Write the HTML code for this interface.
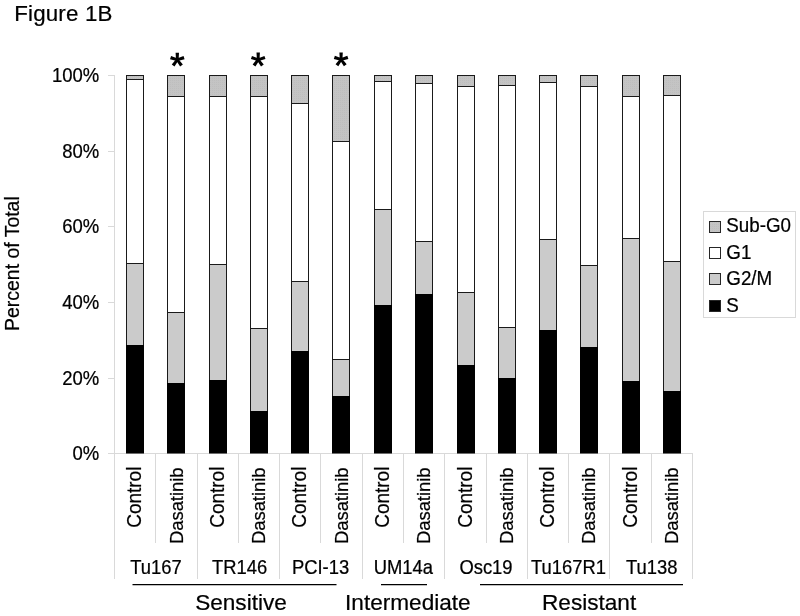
<!DOCTYPE html>
<html><head><meta charset="utf-8"><title>Figure 1B</title>
<style>html,body{margin:0;padding:0;background:#fff;}svg{display:block;will-change:transform;}text{font-family:"Liberation Sans",sans-serif;fill:#000;stroke:#000;stroke-width:0.22px;}</style></head><body>
<svg width="800" height="616" viewBox="0 0 800 616">
<defs><pattern id="dots" width="2" height="2" patternUnits="userSpaceOnUse"><rect width="2" height="2" fill="#c4c4c4"/><rect width="1" height="1" fill="#bebebe"/></pattern></defs>
<rect width="800" height="616" fill="#fff"/>
<text x="14.3" y="20.8" font-size="22.3" letter-spacing="0.17">Figure 1B</text>
<g stroke="#d9d9d9" stroke-width="1" fill="none">
<line x1="114.5" y1="75.0" x2="114.5" y2="579"/>
<line x1="108.0" y1="453.5" x2="692.0" y2="453.5"/>
<line x1="108.0" y1="75.5" x2="114.0" y2="75.5"/>
<line x1="108.0" y1="151.5" x2="114.0" y2="151.5"/>
<line x1="108.0" y1="226.5" x2="114.0" y2="226.5"/>
<line x1="108.0" y1="302.5" x2="114.0" y2="302.5"/>
<line x1="108.0" y1="378.5" x2="114.0" y2="378.5"/>
<line x1="155.5" y1="453.0" x2="155.5" y2="543"/>
<line x1="197.5" y1="453.0" x2="197.5" y2="579"/>
<line x1="238.5" y1="453.0" x2="238.5" y2="543"/>
<line x1="279.5" y1="453.0" x2="279.5" y2="579"/>
<line x1="320.5" y1="453.0" x2="320.5" y2="543"/>
<line x1="362.5" y1="453.0" x2="362.5" y2="579"/>
<line x1="403.5" y1="453.0" x2="403.5" y2="543"/>
<line x1="444.5" y1="453.0" x2="444.5" y2="579"/>
<line x1="486.5" y1="453.0" x2="486.5" y2="543"/>
<line x1="527.5" y1="453.0" x2="527.5" y2="579"/>
<line x1="568.5" y1="453.0" x2="568.5" y2="543"/>
<line x1="609.5" y1="453.0" x2="609.5" y2="579"/>
<line x1="651.5" y1="453.0" x2="651.5" y2="543"/>
<line x1="692.5" y1="453.0" x2="692.5" y2="579"/>
</g>
<text transform="translate(99.3,82.3) scale(1,1.05)" font-size="18.5" text-anchor="end">100%</text>
<text transform="translate(99.3,158.3) scale(1,1.05)" font-size="18.5" text-anchor="end">80%</text>
<text transform="translate(99.3,233.3) scale(1,1.05)" font-size="18.5" text-anchor="end">60%</text>
<text transform="translate(99.3,309.3) scale(1,1.05)" font-size="18.5" text-anchor="end">40%</text>
<text transform="translate(99.3,385.3) scale(1,1.05)" font-size="18.5" text-anchor="end">20%</text>
<text transform="translate(99.3,460.3) scale(1,1.05)" font-size="18.5" text-anchor="end">0%</text>
<text transform="translate(18.9,263.6) rotate(-90)" font-size="19.45" text-anchor="middle">Percent of Total</text>
<rect x="126.5" y="75.5" width="17" height="188.00" fill="#fff" stroke="#1a1a1a" stroke-width="1"/>
<rect x="126.5" y="75.5" width="17" height="4.00" fill="url(#dots)" stroke="#1a1a1a" stroke-width="1"/>
<rect x="126.5" y="263.50" width="17" height="82.00" fill="#cbcbcb" stroke="#1a1a1a" stroke-width="1"/>
<rect x="126" y="345" width="18" height="108.50" fill="#000"/>
<rect x="167.5" y="75.5" width="17" height="237.00" fill="#fff" stroke="#1a1a1a" stroke-width="1"/>
<rect x="167.5" y="75.5" width="17" height="21.00" fill="url(#dots)" stroke="#1a1a1a" stroke-width="1"/>
<rect x="167.5" y="312.50" width="17" height="71.00" fill="#cbcbcb" stroke="#1a1a1a" stroke-width="1"/>
<rect x="167" y="383" width="18" height="70.50" fill="#000"/>
<rect x="209.5" y="75.5" width="17" height="189.00" fill="#fff" stroke="#1a1a1a" stroke-width="1"/>
<rect x="209.5" y="75.5" width="17" height="21.00" fill="url(#dots)" stroke="#1a1a1a" stroke-width="1"/>
<rect x="209.5" y="264.50" width="17" height="116.00" fill="#cbcbcb" stroke="#1a1a1a" stroke-width="1"/>
<rect x="209" y="380" width="18" height="73.50" fill="#000"/>
<rect x="250.5" y="75.5" width="17" height="253.00" fill="#fff" stroke="#1a1a1a" stroke-width="1"/>
<rect x="250.5" y="75.5" width="17" height="21.00" fill="url(#dots)" stroke="#1a1a1a" stroke-width="1"/>
<rect x="250.5" y="328.50" width="17" height="83.00" fill="#cbcbcb" stroke="#1a1a1a" stroke-width="1"/>
<rect x="250" y="411" width="18" height="42.50" fill="#000"/>
<rect x="291.5" y="75.5" width="17" height="206.00" fill="#fff" stroke="#1a1a1a" stroke-width="1"/>
<rect x="291.5" y="75.5" width="17" height="28.00" fill="url(#dots)" stroke="#1a1a1a" stroke-width="1"/>
<rect x="291.5" y="281.50" width="17" height="70.00" fill="#cbcbcb" stroke="#1a1a1a" stroke-width="1"/>
<rect x="291" y="351" width="18" height="102.50" fill="#000"/>
<rect x="332.5" y="75.5" width="17" height="284.00" fill="#fff" stroke="#1a1a1a" stroke-width="1"/>
<rect x="332.5" y="75.5" width="17" height="66.00" fill="url(#dots)" stroke="#1a1a1a" stroke-width="1"/>
<rect x="332.5" y="359.50" width="17" height="37.00" fill="#cbcbcb" stroke="#1a1a1a" stroke-width="1"/>
<rect x="332" y="396" width="18" height="57.50" fill="#000"/>
<rect x="374.5" y="75.5" width="17" height="134.00" fill="#fff" stroke="#1a1a1a" stroke-width="1"/>
<rect x="374.5" y="75.5" width="17" height="6.00" fill="url(#dots)" stroke="#1a1a1a" stroke-width="1"/>
<rect x="374.5" y="209.50" width="17" height="96.00" fill="#cbcbcb" stroke="#1a1a1a" stroke-width="1"/>
<rect x="374" y="305" width="18" height="148.50" fill="#000"/>
<rect x="415.5" y="75.5" width="17" height="166.00" fill="#fff" stroke="#1a1a1a" stroke-width="1"/>
<rect x="415.5" y="75.5" width="17" height="8.00" fill="url(#dots)" stroke="#1a1a1a" stroke-width="1"/>
<rect x="415.5" y="241.50" width="17" height="53.00" fill="#cbcbcb" stroke="#1a1a1a" stroke-width="1"/>
<rect x="415" y="294" width="18" height="159.50" fill="#000"/>
<rect x="457.5" y="75.5" width="17" height="217.00" fill="#fff" stroke="#1a1a1a" stroke-width="1"/>
<rect x="457.5" y="75.5" width="17" height="11.00" fill="url(#dots)" stroke="#1a1a1a" stroke-width="1"/>
<rect x="457.5" y="292.50" width="17" height="73.00" fill="#cbcbcb" stroke="#1a1a1a" stroke-width="1"/>
<rect x="457" y="365" width="18" height="88.50" fill="#000"/>
<rect x="498.5" y="75.5" width="17" height="252.00" fill="#fff" stroke="#1a1a1a" stroke-width="1"/>
<rect x="498.5" y="75.5" width="17" height="10.00" fill="url(#dots)" stroke="#1a1a1a" stroke-width="1"/>
<rect x="498.5" y="327.50" width="17" height="51.00" fill="#cbcbcb" stroke="#1a1a1a" stroke-width="1"/>
<rect x="498" y="378" width="18" height="75.50" fill="#000"/>
<rect x="539.5" y="75.5" width="17" height="164.00" fill="#fff" stroke="#1a1a1a" stroke-width="1"/>
<rect x="539.5" y="75.5" width="17" height="7.00" fill="url(#dots)" stroke="#1a1a1a" stroke-width="1"/>
<rect x="539.5" y="239.50" width="17" height="91.00" fill="#cbcbcb" stroke="#1a1a1a" stroke-width="1"/>
<rect x="539" y="330" width="18" height="123.50" fill="#000"/>
<rect x="580.5" y="75.5" width="17" height="190.00" fill="#fff" stroke="#1a1a1a" stroke-width="1"/>
<rect x="580.5" y="75.5" width="17" height="11.00" fill="url(#dots)" stroke="#1a1a1a" stroke-width="1"/>
<rect x="580.5" y="265.50" width="17" height="82.00" fill="#cbcbcb" stroke="#1a1a1a" stroke-width="1"/>
<rect x="580" y="347" width="18" height="106.50" fill="#000"/>
<rect x="622.5" y="75.5" width="17" height="163.00" fill="#fff" stroke="#1a1a1a" stroke-width="1"/>
<rect x="622.5" y="75.5" width="17" height="21.00" fill="url(#dots)" stroke="#1a1a1a" stroke-width="1"/>
<rect x="622.5" y="238.50" width="17" height="143.00" fill="#cbcbcb" stroke="#1a1a1a" stroke-width="1"/>
<rect x="622" y="381" width="18" height="72.50" fill="#000"/>
<rect x="663.5" y="75.5" width="17" height="186.00" fill="#fff" stroke="#1a1a1a" stroke-width="1"/>
<rect x="663.5" y="75.5" width="17" height="20.00" fill="url(#dots)" stroke="#1a1a1a" stroke-width="1"/>
<rect x="663.5" y="261.50" width="17" height="130.00" fill="#cbcbcb" stroke="#1a1a1a" stroke-width="1"/>
<rect x="663" y="391" width="18" height="62.50" fill="#000"/>
<path d="M178.60 59.75 L179.00 52.65 L175.60 52.65 L176.00 59.75ZM177.70 60.99 L184.58 59.17 L183.53 55.94 L176.90 58.51ZM176.25 60.51 L180.10 66.49 L182.85 64.49 L178.35 58.99ZM176.25 58.99 L171.75 64.49 L174.50 66.49 L178.35 60.51ZM177.70 58.51 L171.07 55.94 L170.02 59.17 L176.90 60.99Z" fill="#000"/><circle cx="177.3" cy="59.75" r="1.9" fill="#000"/>
<path d="M259.50 59.70 L259.90 52.60 L256.50 52.60 L256.90 59.70ZM258.60 60.94 L265.48 59.12 L264.43 55.89 L257.80 58.46ZM257.15 60.46 L261.00 66.44 L263.75 64.44 L259.25 58.94ZM257.15 58.94 L252.65 64.44 L255.40 66.44 L259.25 60.46ZM258.60 58.46 L251.97 55.89 L250.92 59.12 L257.80 60.94Z" fill="#000"/><circle cx="258.2" cy="59.7" r="1.9" fill="#000"/>
<path d="M342.40 59.60 L342.80 52.50 L339.40 52.50 L339.80 59.60ZM341.50 60.84 L348.38 59.02 L347.33 55.79 L340.70 58.36ZM340.05 60.36 L343.90 66.34 L346.65 64.34 L342.15 58.84ZM340.05 58.84 L335.55 64.34 L338.30 66.34 L342.15 60.36ZM341.50 58.36 L334.87 55.79 L333.82 59.02 L340.70 60.84Z" fill="#000"/><circle cx="341.1" cy="59.6" r="1.9" fill="#000"/>
<text transform="translate(141.2,466.6) rotate(-90) scale(1,1.04)" font-size="19.0" text-anchor="end">Control</text>
<text transform="translate(182.5,467.4) rotate(-90) scale(1,1.04)" font-size="18.4" text-anchor="end">Dasatinib</text>
<text transform="translate(223.8,466.6) rotate(-90) scale(1,1.04)" font-size="19.0" text-anchor="end">Control</text>
<text transform="translate(265.1,467.4) rotate(-90) scale(1,1.04)" font-size="18.4" text-anchor="end">Dasatinib</text>
<text transform="translate(306.4,466.6) rotate(-90) scale(1,1.04)" font-size="19.0" text-anchor="end">Control</text>
<text transform="translate(347.7,467.4) rotate(-90) scale(1,1.04)" font-size="18.4" text-anchor="end">Dasatinib</text>
<text transform="translate(389.0,466.6) rotate(-90) scale(1,1.04)" font-size="19.0" text-anchor="end">Control</text>
<text transform="translate(430.2,467.4) rotate(-90) scale(1,1.04)" font-size="18.4" text-anchor="end">Dasatinib</text>
<text transform="translate(471.5,466.6) rotate(-90) scale(1,1.04)" font-size="19.0" text-anchor="end">Control</text>
<text transform="translate(512.8,467.4) rotate(-90) scale(1,1.04)" font-size="18.4" text-anchor="end">Dasatinib</text>
<text transform="translate(554.1,466.6) rotate(-90) scale(1,1.04)" font-size="19.0" text-anchor="end">Control</text>
<text transform="translate(595.4,467.4) rotate(-90) scale(1,1.04)" font-size="18.4" text-anchor="end">Dasatinib</text>
<text transform="translate(636.7,466.6) rotate(-90) scale(1,1.04)" font-size="19.0" text-anchor="end">Control</text>
<text transform="translate(678.0,467.4) rotate(-90) scale(1,1.04)" font-size="18.4" text-anchor="end">Dasatinib</text>
<text transform="translate(155.9,574.4) scale(1,1.05)" font-size="18.4" text-anchor="middle">Tu167</text>
<text transform="translate(239.5,574.4) scale(1,1.05)" font-size="18.4" text-anchor="middle">TR146</text>
<text transform="translate(320.5,574.4) scale(1,1.05)" font-size="18.4" text-anchor="middle">PCI-13</text>
<text transform="translate(403.4,574.4) scale(1,1.05)" font-size="18.4" text-anchor="middle">UM14a</text>
<text transform="translate(486.0,574.4) scale(1,1.05)" font-size="18.4" text-anchor="middle">Osc19</text>
<text transform="translate(568.5,574.4) scale(1,1.05)" font-size="18.4" text-anchor="middle">Tu167R1</text>
<text transform="translate(651.7,574.4) scale(1,1.05)" font-size="18.4" text-anchor="middle">Tu138</text>
<g stroke="#000" stroke-width="1.2">
<line x1="132.5" y1="584.6" x2="336.5" y2="584.6"/>
<line x1="381" y1="584.6" x2="427" y2="584.6"/>
<line x1="480" y1="584.6" x2="683" y2="584.6"/>
</g>
<text x="241" y="610.2" font-size="22.6" text-anchor="middle">Sensitive</text>
<text x="407.9" y="610.2" font-size="22.6" text-anchor="middle">Intermediate</text>
<text x="589.1" y="610.2" font-size="22.6" text-anchor="middle">Resistant</text>
<rect x="703.5" y="211.5" width="92" height="106" fill="#fff" stroke="#d9d9d9" stroke-width="1"/>
<rect x="709.5" y="221.5" width="11" height="11" fill="url(#dots)" stroke="#262626" stroke-width="1"/>
<text transform="translate(726.3,232.1) scale(1,1.04)" font-size="18.8">Sub-G0</text>
<rect x="709.5" y="247.5" width="11" height="11" fill="#fff" stroke="#262626" stroke-width="1"/>
<text transform="translate(726.3,258.6) scale(1,1.04)" font-size="18.8">G1</text>
<rect x="709.5" y="273.5" width="11" height="11" fill="#cbcbcb" stroke="#262626" stroke-width="1"/>
<text transform="translate(726.3,285.1) scale(1,1.04)" font-size="18.8">G2/M</text>
<rect x="709.5" y="300.5" width="11" height="11" fill="#000" stroke="#262626" stroke-width="1"/>
<text transform="translate(726.3,311.6) scale(1,1.04)" font-size="18.8">S</text>
</svg></body></html>
